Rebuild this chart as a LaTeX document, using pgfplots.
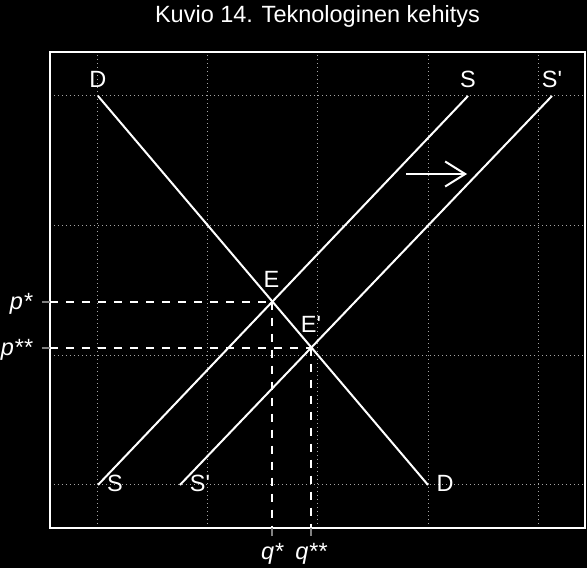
\documentclass[border=0pt]{standalone}
\usepackage{fontspec}
\setmainfont{Liberation Sans}
\usepackage{pgfplots}
\pgfplotsset{compat=1.18}
\usetikzlibrary{arrows.meta}
\definecolor{gridgray}{RGB}{165,165,165}
\definecolor{tickgray}{RGB}{130,130,130}

\begin{document}
\begin{tikzpicture}[font=\fontsize{23.5}{28}\selectfont, text=white]
  % black page
  \path[fill=black, use as bounding box] (0,0) rectangle (587pt,568pt);
  \begin{axis}[
      at={(50pt,40pt)}, anchor=south west,
      scale only axis, width=535pt, height=476pt,
      xmin=-0.436, xmax=4.427,
      ymin=-0.332, ymax=3.339,
      clip=false,
      axis line style={white, line width=1.6pt},
      xtick={0,1,2,3,4}, ytick={0,1,2,3},
      xticklabels={{},{},{},{},{}}, yticklabels={{},{},{},{}},
      major tick length=0pt,
      xtick pos=bottom, ytick pos=left,
      grid=major,
      grid style={gridgray, line width=1pt, dash pattern=on 1pt off 3pt},
      extra x ticks={1.586,1.940}, extra x tick labels={{},{}},
      extra y ticks={1.414,1.060}, extra y tick labels={{},{}},
      extra tick style={grid=none, tick align=outside, major tick length=8pt,
        major tick style={tickgray, line width=2pt}},
      title={Kuvio 14. Teknologinen kehitys},
      every axis title/.style={at={(0.5,1)}, anchor=base, yshift=29.3pt,
        inner sep=0pt, text=white},
    ]
    % demand D
    \addplot[white, line width=2pt] coordinates {(0,3) (3,0)};
    % supply S
    \addplot[white, line width=2pt] coordinates {(0,0) (3.364,3)};
    % supply S' after technological progress
    \addplot[white, line width=2pt] coordinates {(0.745,0) (4.127,3)};
    % guide lines to the equilibria
    \addplot[white, line width=2pt, dash pattern=on 8pt off 8pt]
      coordinates {(-0.436,1.414) (1.586,1.414)};
    \addplot[white, line width=2pt, dash pattern=on 8pt off 8pt]
      coordinates {(1.586,1.414) (1.586,-0.332)};
    \addplot[white, line width=2pt, dash pattern=on 8pt off 8pt]
      coordinates {(-0.436,1.060) (1.940,1.060)};
    \addplot[white, line width=2pt, dash pattern=on 8pt off 8pt]
      coordinates {(1.940,1.060) (1.940,-0.332)};
    % shift arrow
    \addplot[white, line width=2pt, -{Straight Barb[length=20pt,width=25pt]}]
      coordinates {(2.8,2.398) (3.355,2.398)};

    \node[anchor=base, text=white] at (axis cs:0,3.069) {D};
    \node[anchor=base, text=white] at (axis cs:3.364,3.069) {S};
    \node[anchor=base, text=white] at (axis cs:4.127,3.069) {S\textquotesingle};
    \node[anchor=base, text=white] at (axis cs:0.155,-0.054) {S};
    \node[anchor=base, text=white] at (axis cs:0.927,-0.054) {S\textquotesingle};
    \node[anchor=base, text=white] at (axis cs:3.155,-0.054) {D};
    \node[anchor=base, text=white] at (axis cs:1.577,1.519) {E};
    \node[anchor=base, text=white] at (axis cs:1.936,1.172) {E\textquotesingle};

    \node[anchor=base east, inner sep=0pt, xshift=-17pt, yshift=-8pt, text=white]
      at (axis cs:-0.436,1.414) {\textit{p*}};
    \node[anchor=base east, inner sep=0pt, xshift=-17pt, yshift=-7.5pt, text=white]
      at (axis cs:-0.436,1.060) {\textit{p**}};
    \node[anchor=base, inner sep=0pt, yshift=-32pt, text=white]
      at (axis cs:1.586,-0.332) {\textit{q*}};
    \node[anchor=base, inner sep=0pt, yshift=-32pt, text=white]
      at (axis cs:1.940,-0.332) {\textit{q**}};
  \end{axis}
\end{tikzpicture}
\end{document}
